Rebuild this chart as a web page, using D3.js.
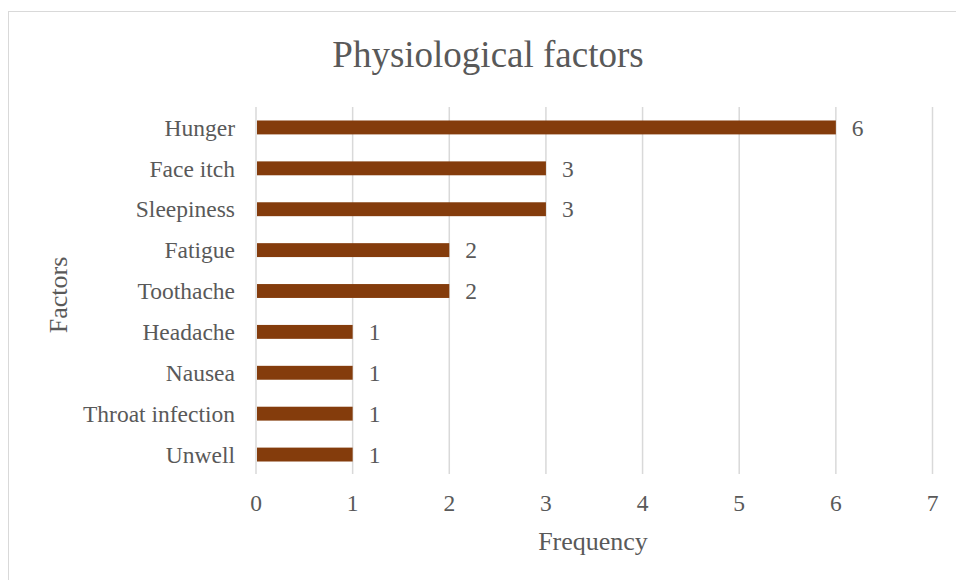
<!DOCTYPE html>
<html><head><meta charset="utf-8">
<script src="https://cdn.jsdelivr.net/npm/d3@7"></script>
<style>body{margin:0;background:#fff}svg{display:block}</style>
</head><body>
<script>
const categories = ["Hunger","Face itch","Sleepiness","Fatigue","Toothache","Headache","Nausea","Throat infection","Unwell"];
const values = [6,3,3,2,2,1,1,1,1];
const xTicks = [0,1,2,3,4,5,6,7];
const title = "Physiological factors";
const xTitle = "Frequency";
const yTitle = "Factors";

(function(){
const W = 956, H = 580;
const font = "'Liberation Serif','Times New Roman',serif";
const txt = "#595959";
const fs = 23.5;
const svg = d3.select("body").append("svg").attr("width", W).attr("height", H);
svg.append("rect").attr("x",8.5).attr("y",11.5).attr("width",W).attr("height",H)
  .attr("fill","#fff").attr("stroke","#d9d9d9");

const pLeft = 256, pRight = 932.5, pTop = 107, pBottom = 475;
const x = d3.scaleLinear().domain([0,7]).range([pLeft,pRight]);
const y = d3.scaleBand().domain(categories).range([pTop,pBottom]).paddingInner(0.66).paddingOuter(0.33);

svg.append("g").selectAll("line").data(xTicks).join("line")
  .attr("x1",d=>x(d)).attr("x2",d=>x(d)).attr("y1",pTop).attr("y2",pBottom-1)
  .attr("stroke","#d9d9d9").attr("stroke-width",1.5);

svg.append("g").selectAll("rect").data(values).join("rect")
  .attr("x",x(0)+1).attr("y",(d,i)=>y(categories[i]))
  .attr("width",d=>x(d)-x(0)-1).attr("height",y.bandwidth())
  .attr("fill","#843c0c");

svg.append("g").selectAll("text").data(values).join("text")
  .attr("x",d=>x(d)+16).attr("y",(d,i)=>y(categories[i])+y.bandwidth()/2)
  .attr("dy","0.35em").attr("font-family",font).attr("font-size",fs).attr("fill",txt)
  .text(d=>d);

svg.append("g").selectAll("text").data(categories).join("text")
  .attr("x",235).attr("y",d=>y(d)+y.bandwidth()/2).attr("dy","0.35em")
  .attr("text-anchor","end").attr("font-family",font).attr("font-size",fs).attr("fill",txt)
  .text(d=>d);

svg.append("g").selectAll("text").data(xTicks).join("text")
  .attr("x",d=>x(d)).attr("y",511)
  .attr("text-anchor","middle").attr("font-family",font).attr("font-size",fs).attr("fill",txt)
  .text(d=>d);

svg.append("text").attr("x",488).attr("y",67).attr("text-anchor","middle")
  .attr("font-family",font).attr("font-size",37).attr("fill",txt).text(title);
svg.append("text").attr("x",593).attr("y",550).attr("text-anchor","middle")
  .attr("font-family",font).attr("font-size",26).attr("fill",txt).text(xTitle);
svg.append("text").attr("transform","translate(67,295) rotate(-90)").attr("text-anchor","middle")
  .attr("font-family",font).attr("font-size",26).attr("fill",txt).text(yTitle);
})();
</script>
</body></html>
